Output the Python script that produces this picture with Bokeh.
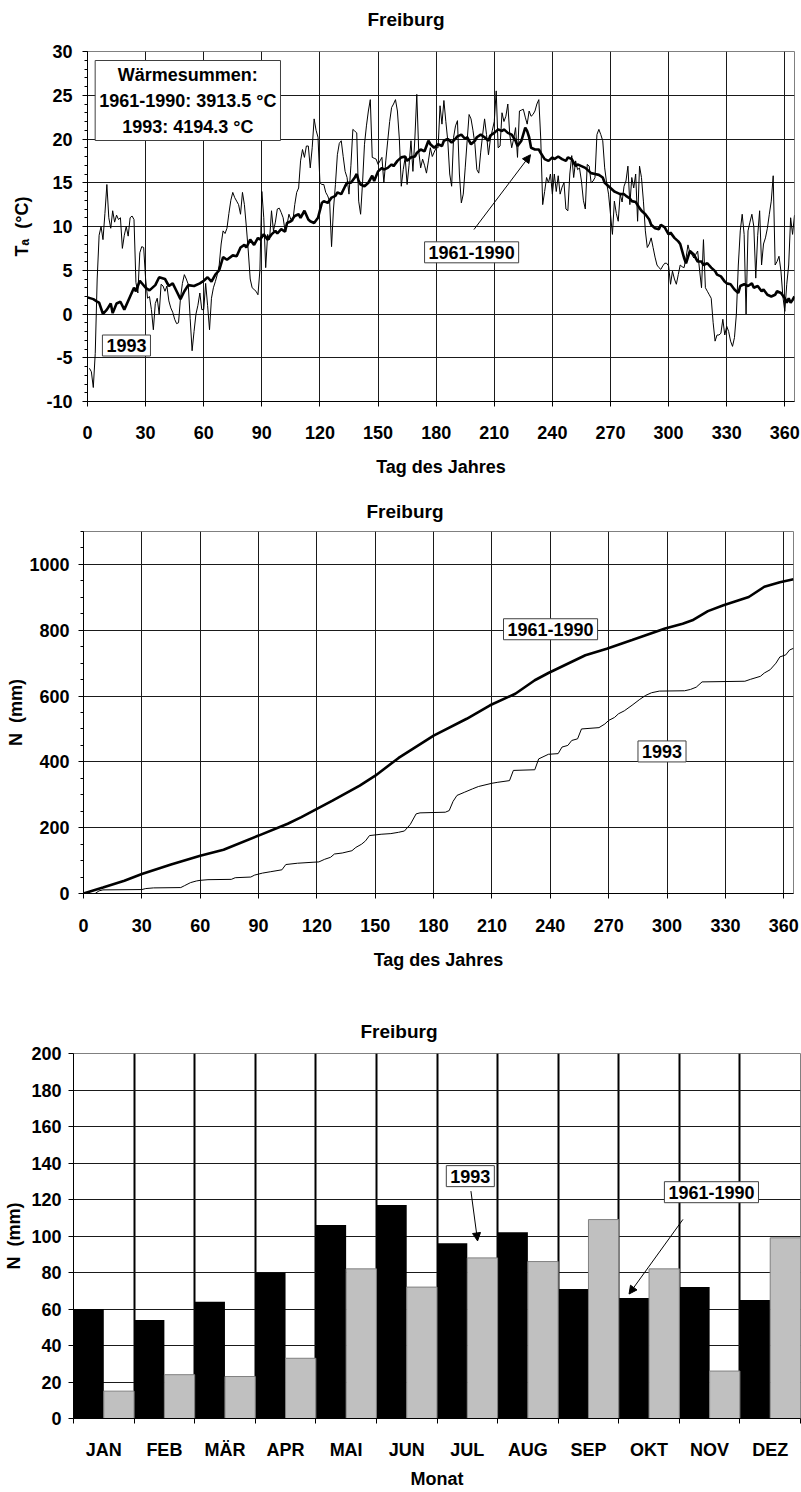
from bokeh.embed import file_html
from bokeh.models import (Arrow, ColumnDataSource, FixedTicker, Label, NormalHead,
                          Range1d, SingleIntervalTicker, Title)
from bokeh.plotting import figure
from bokeh.resources import INLINE
from bokeh.transform import dodge

FONT = "Liberation Sans"

# ---------------------------------------------------------------- data
# Daily mean air temperature 1993 (day of year 1..365), degC
t1993_day = list(range(1, 366))
t1993_val = [
    -6.2, -6.6, -8.4, -4.5, 4.0, 9.0, 10.0, 8.5, 11.5, 14.8,
    11.0, 9.8, 11.8, 10.5, 11.3, 10.8, 11.0, 7.5, 9.0, 10.0,
    8.9, 11.0, 11.2, 10.8, 3.6, 2.4, 7.0, 7.7, 7.6, 4.0,
    1.8, 2.0, 0.5, -1.8, 1.2, 1.8, 0.0, 3.4, 3.2, 2.6,
    3.2, 1.5, 0.7, 0.2, -0.6, -1.1, -1.0, 1.8, 3.5, 4.5,
    4.0, 3.4, -0.5, -4.2, -2.0, 0.0, 1.0, 2.4, 0.5, 0.5,
    3.5, 1.0, -1.8, 1.8, 3.0, 3.7, 4.5, 5.6, 8.0, 9.5,
    9.2, 9.8, 11.5, 13.0, 13.9, 13.3, 12.9, 12.5, 11.4, 13.9,
    12.5, 10.0, 7.2, 4.0, 3.0, 2.8, 2.6, 2.2, 5.0, 14.0,
    11.0, 5.3, 9.1, 8.5, 11.8, 9.5, 10.5, 12.0, 12.1, 11.6,
    11.0, 9.5, 10.2, 11.4, 10.8, 10.6, 12.5, 13.9, 14.4, 17.5,
    18.8, 17.9, 19.2, 19.2, 16.7, 19.0, 22.3, 21.0, 20.2, 15.0,
    14.8, 14.8, 13.9, 13.5, 12.9, 7.7, 12.0, 14.8, 18.2, 19.5,
    19.8, 18.0, 16.3, 15.6, 13.7, 17.0, 21.1, 20.9, 20.7, 12.9,
    11.4, 15.0, 19.4, 21.5, 23.2, 24.5, 17.9, 17.8, 17.7, 17.1,
    17.5, 17.9, 15.0, 17.5, 19.8, 22.0, 23.6, 24.0, 24.5, 23.2,
    20.0, 14.6, 16.5, 17.9, 14.8, 17.0, 19.8, 16.3, 20.0, 25.1,
    18.6, 16.7, 17.7, 17.0, 16.1, 17.5, 19.0, 18.0, 18.5, 19.0,
    19.0, 23.8, 21.7, 24.4, 22.0, 19.8, 16.0, 14.6, 20.2, 21.5,
    22.1, 16.0, 12.7, 13.7, 16.7, 19.8, 22.8, 22.3, 21.0, 19.4,
    16.5, 16.1, 18.5, 20.5, 22.3, 20.5, 18.2, 20.0, 21.0, 22.0,
    25.5, 19.0, 19.2, 23.0, 22.0, 22.6, 24.0, 20.5, 19.0, 20.0,
    21.3, 17.9, 23.2, 23.3, 23.4, 22.5, 21.7, 23.2, 22.6, 22.8,
    23.2, 24.0, 24.5, 20.0, 12.5, 14.0, 15.6, 15.0, 16.0, 13.7,
    16.0, 14.0, 15.8, 13.7, 14.5, 15.0, 12.0, 11.8, 16.0, 18.1,
    15.6, 17.5, 16.5, 16.7, 15.2, 13.0, 12.0, 17.1, 16.9, 15.0,
    15.2, 15.6, 20.5, 21.1, 20.5, 19.8, 16.7, 15.0, 13.7, 11.4,
    9.1, 12.9, 11.5, 10.6, 13.7, 12.8, 14.6, 15.2, 16.9, 12.5,
    15.6, 14.4, 16.0, 10.6, 16.9, 15.6, 12.9, 9.5, 7.6, 8.0,
    8.7, 7.6, 6.5, 5.6, 5.3, 5.1, 5.5, 5.8, 5.8, 5.5,
    3.4, 4.9, 4.0, 3.4, 4.5, 5.6, 5.4, 5.3, 6.4, 7.9,
    7.0, 6.8, 6.4, 6.8, 7.2, 5.0, 3.0, 8.5, 3.0, 2.6,
    2.2, 1.8, -1.0, -3.1, -2.4, -2.4, -2.2, -0.6, -2.4, -1.4,
    -2.0, -3.1, -3.7, -2.7, 0.0, 5.6, 9.5, 11.4, 9.1, 0.0,
    9.5, 10.5, 11.4, 10.0, 4.1, 9.0, 11.8, 5.6, 8.0, 8.7,
    9.8, 11.4, 12.9, 15.8, 5.6, 6.0, 6.6, 4.9, 2.0, 0.3,
    3.4, 5.6, 11.0, 9.1, 11.3,
]

# Long-term mean daily temperature 1961-1990, degC
t6190_day = [
    0, 3, 5, 6, 8, 10, 12, 13, 15, 17, 19, 22, 24, 25, 27, 30, 32, 35, 37, 40,
    42, 44, 46, 48, 50, 52, 55, 58, 60, 62, 64, 66, 68, 70, 72, 75, 77, 79, 81, 82,
    84, 86, 88, 89, 91, 93, 95, 97, 98, 100, 102, 103, 105, 107, 109, 110, 112, 114, 115, 117,
    119, 121, 122, 124, 126, 128, 129, 131, 133, 134, 136, 138, 139, 140, 141, 143, 145, 147, 148, 150,
    152, 153, 155, 157, 158, 160, 162, 164, 165, 167, 169, 170, 172, 174, 176, 177, 179, 181, 183, 184,
    186, 188, 189, 191, 193, 195, 196, 198, 200, 201, 203, 205, 207, 208, 210, 212, 214, 215, 217, 219,
    221, 222, 224, 226, 227, 228, 229, 231, 233, 234, 236, 238, 240, 241, 243, 245, 247, 248, 250, 252,
    253, 255, 257, 258, 260, 262, 264, 266, 267, 269, 270, 272, 273, 275, 277, 278, 280, 281, 283, 285,
    286, 288, 290, 291, 293, 295, 296, 298, 300, 301, 303, 305, 306, 308, 309, 310, 311, 313, 315, 317,
    318, 320, 322, 324, 325, 327, 329, 330, 332, 334, 336, 337, 339, 341, 343, 344, 346, 348, 349, 351,
    353, 355, 356, 358, 360, 361, 362, 363, 364, 365,
]
t6190_val = [
    1.9, 1.7, 1.4, 1.3, 0.0, 0.5, 1.2, 0.1, 1.2, 1.4, 0.5, 2.0, 3.0, 2.6, 3.8, 3.0, 2.7, 3.3, 4.2, 4.0,
    3.2, 3.5, 2.6, 1.7, 2.6, 3.3, 3.2, 3.5, 3.8, 4.2, 3.7, 4.5, 5.0, 6.5, 6.2, 6.7, 6.6, 7.6, 7.9, 7.6,
    8.5, 7.9, 8.7, 8.5, 9.1, 8.5, 9.1, 9.5, 9.2, 9.7, 9.4, 10.4, 10.6, 11.2, 11.4, 11.0, 11.8, 10.8, 10.6, 10.4,
    11.0, 12.7, 12.9, 12.7, 13.3, 13.5, 13.9, 13.7, 14.6, 15.0, 15.0, 15.6, 16.0, 15.2, 14.8, 14.6, 15.0, 15.8, 15.2, 16.3,
    16.7, 16.5, 16.7, 17.1, 16.9, 17.5, 17.9, 18.0, 17.5, 17.9, 18.0, 18.4, 18.8, 18.6, 19.8, 19.4, 19.0, 19.4, 19.2, 19.8,
    20.0, 19.6, 19.8, 20.3, 20.5, 20.0, 20.2, 19.4, 19.8, 20.2, 20.5, 20.2, 19.8, 20.4, 20.7, 21.1, 20.9, 21.1, 20.7, 20.5,
    19.8, 19.2, 19.8, 21.3, 20.9, 20.2, 19.0, 18.8, 18.8, 18.4, 17.7, 17.5, 17.9, 17.7, 18.0, 17.7, 17.5, 17.9, 17.7, 16.9,
    17.1, 16.9, 16.7, 16.5, 16.1, 16.0, 15.9, 15.6, 15.0, 14.6, 14.4, 14.0, 13.9, 13.7, 13.7, 13.5, 13.2, 12.9, 12.8, 12.1,
    11.8, 11.4, 10.8, 10.2, 9.8, 9.7, 10.2, 9.9, 9.1, 9.3, 8.7, 8.3, 8.0, 6.4, 5.8, 6.5, 7.2, 6.8, 6.0, 6.0,
    5.6, 5.8, 5.3, 4.9, 4.5, 4.3, 3.7, 3.5, 3.4, 2.8, 2.4, 3.2, 3.4, 3.2, 3.5, 3.0, 3.2, 2.6, 2.8, 2.2,
    2.0, 2.2, 2.6, 2.4, 1.8, 1.3, 1.8, 1.3, 1.6, 2.0,
]

# Cumulative precipitation (mm) against day of year
n6190_day = [0, 10, 21, 30, 45, 60, 72, 90, 105, 112, 120, 128, 142, 150, 162, 180, 197, 209,
             222, 232, 239, 258, 269, 282, 299, 308, 313, 321, 329, 342, 350, 358, 365]
n6190_sum = [0, 18, 39, 59, 88, 115, 133, 176, 212, 232, 257, 282, 328, 358, 412, 480, 531, 572,
             607, 648, 670, 724, 744, 770, 805, 820, 830, 858, 876, 901, 932, 946, 955]

n1993_day = [0, 6, 8, 10, 30, 32, 36, 50, 52, 55, 58, 60, 64, 76, 78, 86, 88, 92, 96, 102,
             104, 110, 118, 121, 124, 127, 129, 133, 138, 140, 143, 145, 147, 153, 158, 162, 165, 168, 171, 173,
             186, 188, 190, 192, 196, 200, 203, 210, 213, 219, 221, 232, 234, 239, 244, 246, 249, 251, 254, 256,
             265, 268, 270, 273, 275, 278, 282, 286, 289, 292, 296, 309, 312, 315, 318, 340, 343, 348, 350, 353,
             356, 358, 361, 363, 365]
n1993_sum = [0, 0, 8, 11, 12, 15, 17, 18, 24, 33, 38, 40, 42, 43, 48, 50, 56, 62, 66, 72,
             88, 92, 95, 96, 104, 110, 120, 123, 130, 140, 150, 160, 176, 180, 182, 186, 190, 210, 242, 245,
             247, 252, 280, 298, 308, 318, 325, 335, 338, 343, 374, 376, 409, 423, 425, 445, 450, 465, 470, 500,
             504, 515, 526, 535, 546, 555, 572, 590, 602, 610, 615, 616, 620, 627, 643, 645, 651, 660, 670, 680,
             700, 719, 725, 740, 745]

# Monthly precipitation (mm)
months = ["JAN", "FEB", "MÄR", "APR", "MAI", "JUN", "JUL", "AUG", "SEP", "OKT", "NOV", "DEZ"]
month_n6190 = [60, 54, 64, 80, 106, 117, 96, 102, 71, 66, 72, 65]
month_n1993 = [15, 24, 23, 33, 82, 72, 88, 86, 109, 82, 26, 99]

waermesumme_6190 = "3913.5"
waermesumme_1993 = "4194.3"
station = "Freiburg"


# ---------------------------------------------------------------- styling helpers
def style_title(t, offset, valign, standoff):
    t.text_font = FONT
    t.text_font_style = "bold"
    t.text_font_size = "19px"
    t.text_color = "black"
    t.align = "left"
    t.offset = offset
    t.vertical_align = valign
    t.standoff = standoff


def make_figure(height, x_range, y_range, left, right, top, bottom, title=""):
    p = figure(width=801, height=height, x_range=x_range, y_range=y_range,
               output_backend="svg", toolbar_location=None,
               min_border_left=left, min_border_right=right,
               min_border_top=top, min_border_bottom=bottom,
               title=title)
    p.outline_line_color = "#808080"
    p.outline_line_width = 1
    for ax in p.axis:
        ax.axis_line_color = "black"
        ax.axis_line_width = 1
        ax.major_tick_in = 0
        ax.major_tick_out = 5
        ax.minor_tick_in = 0
        ax.minor_tick_out = 3
        ax.major_tick_line_color = "black"
        ax.minor_tick_line_color = "black"
        ax.major_label_text_font = FONT
        ax.major_label_text_font_style = "bold"
        ax.major_label_text_font_size = "18px"
        ax.major_label_text_color = "black"
        ax.axis_label_text_font = FONT
        ax.axis_label_text_font_style = "bold"
        ax.axis_label_text_font_size = "18px"
        ax.axis_label_text_color = "black"
    for g in p.grid:
        g.grid_line_color = "#1a1a1a"
        g.grid_line_width = 1
    return p


def box_label(p, x, y, text, **kw):
    lab = Label(x=x, y=y, text=text, text_font=FONT, text_font_style="bold",
                text_font_size="18px", text_color="black",
                text_align="center", text_baseline="middle",
                background_fill_color="white", border_line_color="#404040",
                border_line_width=1, padding=4, **kw)
    p.add_layout(lab)
    return lab


def arrow(p, x0, y0, x1, y1):
    p.add_layout(Arrow(x_start=x0, y_start=y0, x_end=x1, y_end=y1,
                       line_color="black", line_width=1,
                       end=NormalHead(size=8, fill_color="black", line_color="black")))


# ---------------------------------------------------------------- 1) air temperature
p1 = make_figure(480, Range1d(0, 365), Range1d(-10, 30), 87, 7, 51, 79)
# a blank strip between the plot area and the heading keeps the heading near the top edge
p1.add_layout(Title(text=" ", text_font_size="10px", standoff=9), "above")
heading1 = Title(text=station)
style_title(heading1, 280, "bottom", 0)
p1.add_layout(heading1, "above")

p1.xaxis.ticker = SingleIntervalTicker(interval=30, num_minor_ticks=0)
p1.yaxis.ticker = SingleIntervalTicker(interval=5, num_minor_ticks=5)
p1.yaxis.major_label_overrides = {-10: "-10", -5: "-5"}
p1.xgrid.ticker = SingleIntervalTicker(interval=30)
p1.ygrid.ticker = SingleIntervalTicker(interval=5)
p1.xaxis.axis_label = "Tag des Jahres"
p1.yaxis.axis_label = "Tₐ\u00a0\u00a0(°C)"
p1.xaxis.major_label_standoff = 19
p1.yaxis.major_label_standoff = 10
p1.xaxis.axis_label_standoff = 15
p1.yaxis.axis_label_standoff = 11

p1.line(t1993_day, t1993_val, line_color="black", line_width=1)
p1.line(t6190_day, t6190_val, line_color="black", line_width=2.6)

box_label(p1, 51.8, 24.4,
          "Wärmesummen:\n1961-1990: " + waermesumme_6190 + " °C\n1993: " + waermesumme_1993 + " °C",
          text_line_height=1.3)
box_label(p1, 20.1, -3.6, "1993")
box_label(p1, 198.3, 7.05, "1961-1990")
arrow(p1, 199.5, 9.65, 228.7, 18.2)

# ---------------------------------------------------------------- 2) cumulative precipitation
p2 = make_figure(510, Range1d(0, 365), Range1d(0, 1100), 83, 8, 51, 97, title=station)
style_title(p2.title, 283, "bottom", 20)
p2.xaxis.ticker = SingleIntervalTicker(interval=30, num_minor_ticks=0)
p2.yaxis.ticker = SingleIntervalTicker(interval=200, num_minor_ticks=4)
p2.xgrid.ticker = SingleIntervalTicker(interval=30)
p2.ygrid.ticker = SingleIntervalTicker(interval=200)
p2.xaxis.axis_label = "Tag des Jahres"
p2.yaxis.axis_label = "N\u00a0\u00a0(mm)"
p2.xaxis.major_label_standoff = 20
p2.yaxis.major_label_standoff = 9
p2.xaxis.axis_label_standoff = 15
p2.yaxis.axis_label_standoff = 0

p2.line(n6190_day, n6190_sum, line_color="black", line_width=2.6)
p2.line(n1993_day, n1993_sum, line_color="black", line_width=1)

box_label(p2, 240.1, 803, "1961-1990")
box_label(p2, 297.4, 431.7, "1993")

# ---------------------------------------------------------------- 3) monthly precipitation
src = ColumnDataSource(dict(pos=list(range(len(months))), n6190=month_n6190, n1993=month_n1993))
p3 = make_figure(502, Range1d(0, len(months)), Range1d(0, 200), 73, 1, 63, 74, title=station)
style_title(p3.title, 287, "bottom", 24)
centers = [i + 0.5 for i in range(len(months))]
edges = list(range(len(months) + 1))
p3.xaxis.ticker = FixedTicker(ticks=centers, minor_ticks=edges)
p3.xaxis.major_label_overrides = {c: m for c, m in zip(centers, months)}
p3.xaxis.major_tick_out = 0
p3.xaxis.minor_tick_out = 5
p3.yaxis.ticker = SingleIntervalTicker(interval=20, num_minor_ticks=0)
p3.xgrid.ticker = FixedTicker(ticks=edges)
p3.xgrid.grid_line_color = "black"
p3.xgrid.grid_line_width = 2
p3.ygrid.ticker = SingleIntervalTicker(interval=20)
p3.xaxis.axis_label = "Monat"
p3.yaxis.axis_label = "N\u00a0\u00a0(mm)"
p3.xaxis.major_label_standoff = 16
p3.yaxis.major_label_standoff = 7
p3.xaxis.axis_label_standoff = 6
p3.yaxis.axis_label_standoff = 4

p3.vbar(x=dodge("pos", 0.25), top="n6190", width=0.5, source=src,
        fill_color="black", line_color=None)
p3.vbar(x=dodge("pos", 0.75), top="n1993", width=0.5, source=src,
        fill_color="#c0c0c0", line_color="#808080", line_width=1)

box_label(p3, 6.55, 132.8, "1993")
arrow(p3, 6.56, 124.6, 6.67, 97.3)
box_label(p3, 10.53, 124, "1961-1990")
arrow(p3, 10.06, 109.1, 9.17, 68.2)

# the three charts are separate page roots, stacked top to bottom
open("out.html", "w").write(file_html([p1, p2, p3], INLINE))
